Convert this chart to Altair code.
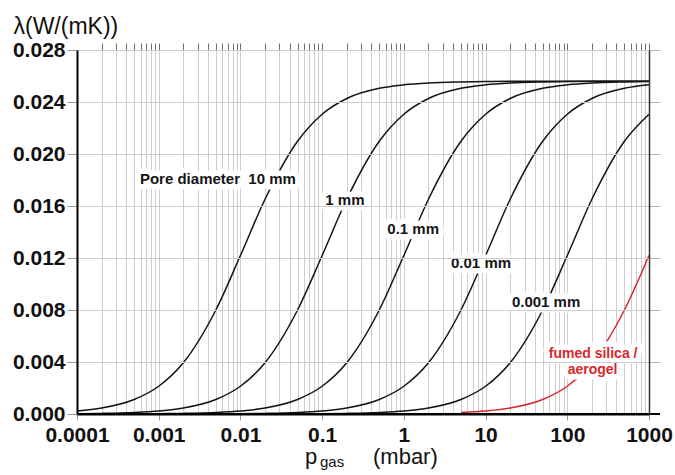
import altair as alt
import pandas as pd

# Gas pressure grid (mbar), 1-2-5 steps per decade
pressure = [0.0001, 0.0002, 0.0005, 0.001, 0.002, 0.005, 0.01, 0.02, 0.05,
            0.1, 0.2, 0.5, 1, 2, 5, 10, 20, 50, 100, 200, 500, 1000]

# Thermal conductivity of the gas phase, W/(mK), per pore diameter
lam_10mm = [0.000231, 0.000457, 0.001113, 0.002133, 0.003938, 0.0080, 0.01219,
            0.01652, 0.02098, 0.02306, 0.02427, 0.02505, 0.02532, 0.02546,
            0.02554, 0.02557, 0.02559, 0.02559, 0.0256, 0.0256, 0.0256, 0.0256]
lam_1mm = [0.0000233, 0.0000465, 0.000116, 0.000231, 0.000457, 0.001113,
           0.002133, 0.003938, 0.0080, 0.01219, 0.01652, 0.02098, 0.02306,
           0.02427, 0.02505, 0.02532, 0.02546, 0.02554, 0.02557, 0.02559,
           0.02559, 0.0256]
lam_01mm = [0.0000023, 0.0000047, 0.0000116, 0.0000233, 0.0000465, 0.000116,
            0.000231, 0.000457, 0.001113, 0.002133, 0.003938, 0.0080, 0.01219,
            0.01652, 0.02098, 0.02306, 0.02427, 0.02505, 0.02532, 0.02546,
            0.02554, 0.02557]
lam_001mm = [0.0000002, 0.0000005, 0.0000012, 0.0000023, 0.0000047, 0.0000116,
             0.0000233, 0.0000465, 0.000116, 0.000231, 0.000457, 0.001113,
             0.002133, 0.003938, 0.0080, 0.01219, 0.01652, 0.02098, 0.02306,
             0.02427, 0.02505, 0.02532]
lam_0001mm = [0.0, 0.0, 0.0, 0.0000002, 0.0000005, 0.0000012, 0.0000023,
              0.0000047, 0.0000116, 0.0000233, 0.0000465, 0.000116, 0.000231,
              0.000457, 0.001113, 0.002133, 0.003938, 0.0080, 0.01219,
              0.01652, 0.02098, 0.02306]

# Fumed silica / aerogel, from 5 mbar upwards
pressure_silica = [5, 10, 20, 50, 100, 200, 500, 1000]
lam_silica = [0.000116, 0.000231, 0.000457, 0.001113, 0.002133, 0.003938,
              0.0080, 0.01219]

# Curve annotations
label_text = ["Pore diameter\u00a0 10 mm", "1 mm", "0.1 mm", "0.01 mm",
              "0.001 mm", "fumed silica /", "aerogel"]
label_p = [0.0053, 0.19, 1.3, 8.8, 55, 207, 204]
label_lam = [0.01808, 0.01646, 0.01423, 0.01162, 0.00862, 0.00458, 0.00342]
label_group = ["pore", "pore", "pore", "pore", "pore", "silica", "silica"]

x_ticks_major = [0.0001, 0.001, 0.01, 0.1, 1, 10, 100, 1000]
x_ticks_minor = [m * d for d in [0.0001, 0.001, 0.01, 0.1, 1, 10, 100]
                 for m in range(1, 10)][1:] + [1000]
y_ticks = [0, 0.004, 0.008, 0.012, 0.016, 0.020, 0.024, 0.028]

series = [("10 mm", lam_10mm), ("1 mm", lam_1mm), ("0.1 mm", lam_01mm),
          ("0.01 mm", lam_001mm), ("0.001 mm", lam_0001mm)]
rows = []
for name, vals in series:
    rows += [{"p": p, "lam": v, "series": name} for p, v in zip(pressure, vals)]
rows += [{"p": p, "lam": v, "series": "silica"}
         for p, v in zip(pressure_silica, lam_silica)]
curves = pd.DataFrame(rows)

labels = pd.DataFrame({"text": label_text, "p": label_p, "lam": label_lam,
                       "group": label_group})

FONT = "Liberation Sans"
BLACK = "#151515"
RED = "#d8262d"
GRID = "#cdcdcd"

W, H = 572, 364

x_scale = alt.Scale(type="log", domain=[0.0001, 1000], nice=False)
y_scale = alt.Scale(domain=[0, 0.028], nice=False, zero=False)
color_scale = alt.Scale(
    domain=["10 mm", "1 mm", "0.1 mm", "0.01 mm", "0.001 mm", "silica"],
    range=[BLACK, BLACK, BLACK, BLACK, BLACK, RED])

# Frame: minor-tick grid on top, tick marks on the right edge
frame = alt.Chart(curves).mark_line(opacity=0).encode(
    x=alt.X("p:Q", scale=x_scale, axis=alt.Axis(
        orient="top", values=x_ticks_minor, labels=False, title=None,
        grid=True, gridColor=GRID, gridWidth=1,
        ticks=True, tickSize=7, tickColor="#707070", tickWidth=1,
        domain=True, domainColor="#9a9a9a", domainWidth=1)),
    y=alt.Y("lam:Q", scale=y_scale, axis=alt.Axis(
        orient="right", values=y_ticks[1:], labels=False, title=None,
        grid=True, gridColor=GRID, gridWidth=1,
        ticks=True, tickSize=11, tickColor="#b5b5b5", tickWidth=1,
        domain=True, domainColor="#333333", domainWidth=1.5, zindex=1)),
    detail="series:N",
)

lines = alt.Chart(curves).mark_line(strokeWidth=1.5, interpolate="monotone").encode(
    x=alt.X("p:Q", scale=x_scale, axis=alt.Axis(
        orient="bottom", values=x_ticks_major, format="~g", title=None,
        grid=False, labelFont=FONT, labelFontSize=21, labelFontWeight="bold",
        labelColor="#111", labelPadding=4, labelFlush=False,
        ticks=True, tickSize=6, tickColor="#999999",
        domain=True, domainColor="#000000", domainWidth=2, zindex=1)),
    y=alt.Y("lam:Q", scale=y_scale, axis=alt.Axis(
        orient="left", values=y_ticks, format=".3f",
        title="λ(W/(mK))", titleAngle=0, titleX=-64, titleY=-17,
        titleAlign="left", titleBaseline="alphabetic", titleFont=FONT,
        titleFontSize=23, titleFontWeight="normal", titleColor="#111",
        grid=False, labelFont=FONT, labelFontSize=21, labelFontWeight="bold",
        labelColor="#111", labelPadding=2,
        ticks=True, tickSize=10, tickColor="#999999",
        domain=True, domainColor="#000000", domainWidth=2, zindex=1)),
    color=alt.Color("series:N", scale=color_scale, legend=None),
)

# Baseline extended to the right edge tick marks
baseline = alt.Chart(curves).mark_rule(color="#000000", strokeWidth=2).encode(
    y=alt.value(H), x=alt.value(0), x2=alt.value(W + 11),
)

label_enc = dict(
    x=alt.X("p:Q", scale=x_scale, axis=None),
    y=alt.Y("lam:Q", scale=y_scale, axis=None),
    text="text:N",
)
size_scale = alt.Scale(domain=["pore", "silica"], range=[15, 14])
halo = alt.Chart(labels).mark_text(
    font=FONT, fontWeight="bold", stroke="white",
    strokeWidth=11, strokeJoin="round", fill="white",
).encode(size=alt.Size("group:N", scale=size_scale, legend=None), **label_enc)
text = alt.Chart(labels).mark_text(
    font=FONT, fontWeight="bold",
).encode(
    color=alt.Color("group:N", scale=alt.Scale(domain=["pore", "silica"],
                                                range=[BLACK, RED]), legend=None),
    size=alt.Size("group:N", scale=size_scale, legend=None),
    **label_enc,
)

# x-axis title with subscript
title_df = pd.DataFrame({"t": ["p", "gas", "(mbar)"],
                         "px": [228, 243, 296], "py": [414, 417, 414]})
x_title_main = alt.Chart(title_df.iloc[[0, 2]]).mark_text(
    font=FONT, fontSize=22, align="left", baseline="alphabetic", color="#111",
).encode(x=alt.X("px:Q", scale=None, axis=None),
         y=alt.Y("py:Q", scale=None, axis=None), text="t:N")
x_title_sub = alt.Chart(title_df.iloc[[1]]).mark_text(
    font=FONT, fontSize=15, align="left", baseline="alphabetic", color="#111",
).encode(x=alt.X("px:Q", scale=None, axis=None),
         y=alt.Y("py:Q", scale=None, axis=None), text="t:N")

chart = alt.layer(frame, lines, baseline, halo, text, x_title_main, x_title_sub).resolve_axis(
    x="independent", y="independent"
).properties(
    width=W, height=H,
    autosize=alt.AutoSizeParams(type="none"),
    padding={"left": 77, "top": 50, "right": 26, "bottom": 61},
    background="white",
).configure_view(stroke=None)

chart.save("out.html", embed_options={"renderer": "svg", "actions": False})
